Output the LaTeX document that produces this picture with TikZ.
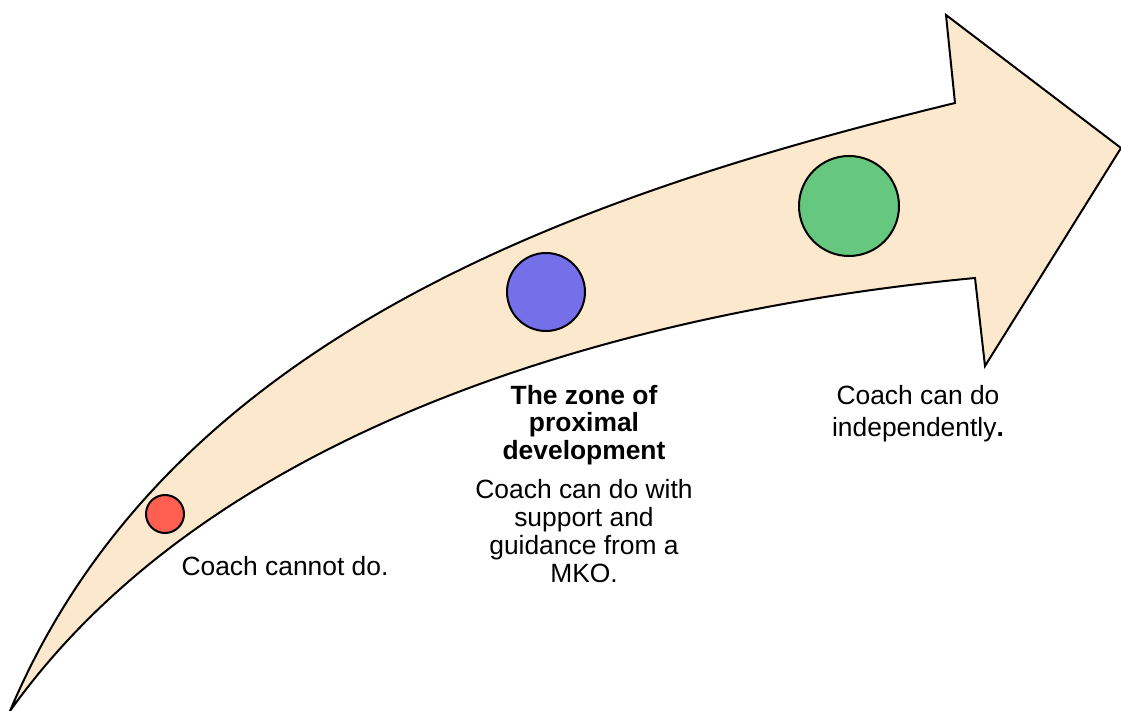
\documentclass[tikz,border=0pt]{standalone}
\usepackage{fontspec}
\setmainfont{Liberation Sans}

\definecolor{bandfill}{HTML}{FCE8CC}
\definecolor{stagered}{HTML}{FF5F50}
\definecolor{stagepurple}{HTML}{7570EA}
\definecolor{stagegreen}{HTML}{66C87E}

\tikzset{
  stage/.style={draw, circle, line width=1pt, inner sep=0pt},
  caption/.style={align=center, inner sep=0pt, font=\fontsize{13.2}{13.9}\selectfont},
}

\begin{document}
\begin{tikzpicture}[x=0.5pt, y=-0.5pt]
\useasboundingbox (0,0) rectangle (1121,711);

% curved arrow band
\draw[fill=bandfill, line width=1pt, line join=miter]
  (10,711) .. controls (166,341) and (565,198) .. (955,103)
  -- (946,15) -- (1121,148) -- (985,366) -- (975,278)
  .. controls (626,311) and (213,426) .. cycle;

% stages along the arrow
\node[stage, fill=stagered, minimum size=19pt] (cannot) at (165,514) {};
\node[stage, fill=stagepurple, minimum size=39pt] (zpd) at (546,292) {};
\node[stage, fill=stagegreen, minimum size=50pt] (alone) at (849,206) {};

% captions
\node[caption] (cannotText) at (285,566) {Coach cannot do.};
\node[caption, font=\fontsize{13.2}{13.9}\selectfont\bfseries] (zpdTitle) at (584,425)
  {The zone of\\ proximal\\ development};
\node[caption] (zpdText) at (584,531)
  {Coach can do with\\ support and\\ guidance from a\\ MKO.};
\node[caption, font=\fontsize{13.2}{16}\selectfont] (aloneText) at (918,414)
  {Coach can do\\ independently\textbf{.}};
\end{tikzpicture}
\end{document}
